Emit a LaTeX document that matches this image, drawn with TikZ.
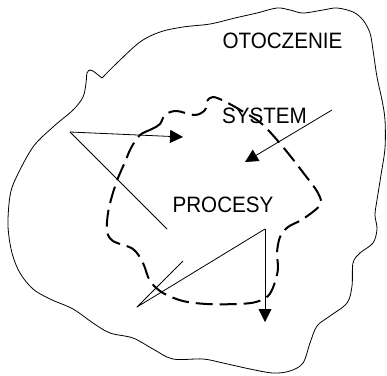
\documentclass[tikz,border=0pt]{standalone}
\usepackage{fontspec}
\setmainfont{Liberation Sans}
\usetikzlibrary{arrows.meta}
\newcommand{\tallword}[1]{\scalebox{1}[1.08]{#1}}
\begin{document}
\begin{tikzpicture}[x=1bp,y=-1bp,
  thin line/.style={line width=0.8bp, line join=round},
  boundary/.style={line width=2bp, dash pattern=on 17bp off 7bp},
  flow/.style={thin line, -{Triangle[length=13bp,width=13bp]}},
  label/.style={font=\fontsize{20.7}{24}\selectfont, inner sep=0pt, anchor=base}]
\useasboundingbox (0,0) rectangle (387,376);

% environment outline
\draw[thin line] plot[smooth, tension=0.55] coordinates {
  (102,78) (117,63) (140,42) (160,32) (183,27) (210,24) (235,18) (257,13)
  (277,8) (290,10) (303,13) (323,10) (337,8) (353,12) (363,20) (370,33)
  (373,50) (377,77) (382,100) (385,120) (385,148) (381,175) (377,200)
  (375,215) (377,229) (373,243) (360,253) (353,263) (352,286) (347,303)
  (330,316) (317,326) (310,343) (303,363) (290,371) (273,373) (250,369)
  (223,363) (203,359) (173,359) (153,349) (133,338) (110,333) (93,323)
  (73,309) (50,299) (33,289) (20,273) (12,253) (8,226) (10,196) (16,178)
  (33,147) (53,127) (73,110) (83,97) (86,83) (87,73) (90,70) (93,71) (102,78)};

% system boundary
\draw[boundary] plot[smooth cycle, tension=0.55] coordinates {
  (140,135) (152,129) (160,124) (165,115) (176,111) (195,115) (205,110)
  (207,101) (213,97) (224,101) (242,111) (262,124) (283,147) (305,175)
  (318,193) (320,205) (303,219) (288,227) (280,237) (277,253) (278,269)
  (274,285) (268,296) (256,302) (238,304) (207,304) (183,301) (163,293)
  (150,281) (143,263) (133,249) (113,241) (107,231) (108,213) (112,196)
  (118,178) (125,162) (131,148)};

% labels
\node[label] (env) at (282.5,48) {\tallword{OTOCZENIE}};
\node[label] (sys) at (264.5,123) {\tallword{SYSTEM}};
\node[label] (proc) at (223,212) {\tallword{PROCESY}};

% input/output flows
\coordinate (a0) at (70,132);
\coordinate (a1) at (183,137);
\coordinate (a2) at (167,229);
\coordinate (b0) at (332,110);
\coordinate (b1) at (245,162);
\coordinate (c0) at (137,307);
\coordinate (c1) at (183,261);
\coordinate (c2) at (265,229);
\coordinate (c3) at (265,322);

\draw[flow] (a0) -- (a1);
\draw[thin line] (a0) -- (a2);
\draw[flow] (b0) -- (b1);
\draw[thin line] (c1) -- (c0) -- (c2);
\draw[flow] (c2) -- (c3);
\end{tikzpicture}
\end{document}
